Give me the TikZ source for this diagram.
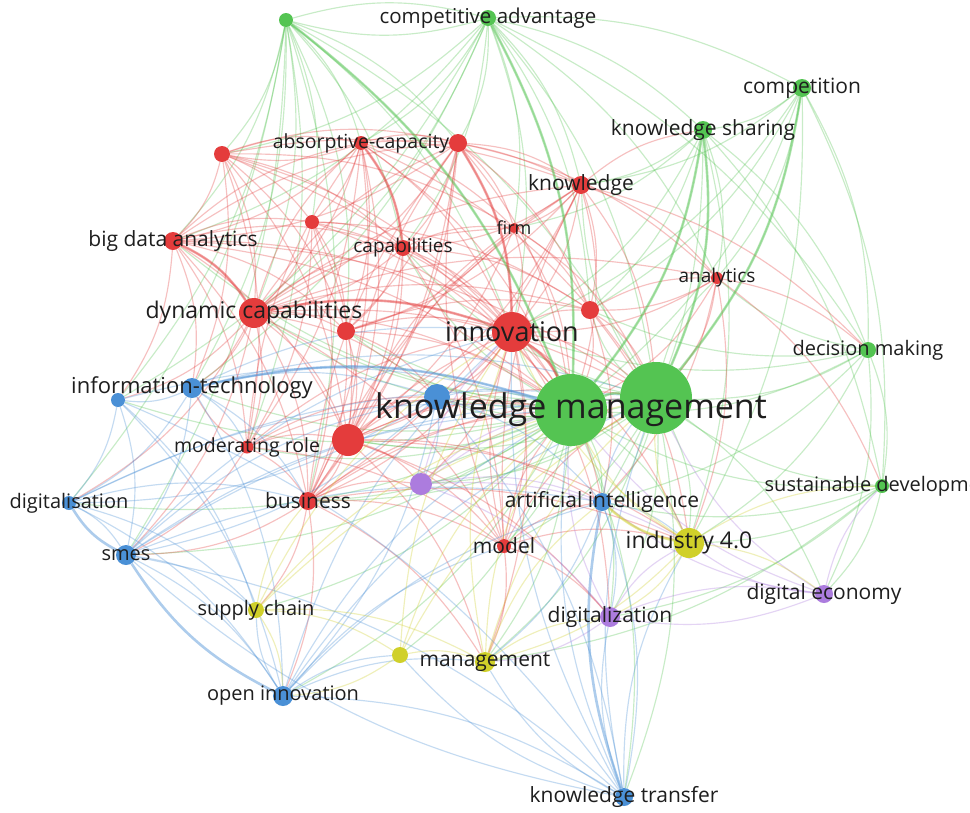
\documentclass[tikz,border=0pt]{standalone}
\usepackage{fontspec}
\setmainfont{Open Sans}
\usetikzlibrary{backgrounds}

\definecolor{vred}{RGB}{228,60,60}
\definecolor{vgreen}{RGB}{84,196,82}
\definecolor{vblue}{RGB}{74,144,214}
\definecolor{vyellow}{RGB}{208,208,42}
\definecolor{vpurple}{RGB}{172,124,222}
\definecolor{vtext}{RGB}{30,30,30}

\tikzset{
	term/.style={circle,inner sep=0pt,minimum size=#1},
	rterm/.style={term=#1,fill=vred},
	gterm/.style={term=#1,fill=vgreen},
	bterm/.style={term=#1,fill=vblue},
	yterm/.style={term=#1,fill=vyellow},
	pterm/.style={term=#1,fill=vpurple},
	tag/.style={font=\fontsize{#1}{#1}\selectfont,text=vtext,inner sep=0pt},
	link/.style={line width=1.15pt,draw opacity=.32,bend left=15},
	heavy/.style={line width=2.6pt,draw opacity=.45,bend left=15},
}

\begin{document}
\begin{tikzpicture}[x=1pt,y=-1pt]
		\useasboundingbox (0,0) rectangle (970,812);
		% Terms
			\node[gterm=14] (ga) at (286,20) {};
			\node[gterm=16] (cadv) at (488,18) {};
			\node[gterm=18] (comp) at (802,88) {};
			\node[gterm=18] (ksh) at (703,130) {};
			\node[gterm=16] (dec) at (868,350) {};
			\node[gterm=14] (sus) at (882,486) {};
			\node[gterm=72] (km) at (571,410) {};
			\node[gterm=72] (km2) at (656,398) {};

			\node[rterm=14] (abs) at (361,143) {};
			\node[rterm=18] (r1) at (458,143) {};
			\node[rterm=16] (r2) at (222,154) {};
			\node[rterm=18] (know) at (581,185) {};
			\node[rterm=14] (r3) at (312,222) {};
			\node[rterm=18] (bda) at (173,241) {};
			\node[rterm=16] (cap) at (403,248) {};
			\node[rterm=10] (firm) at (514,228) {};
			\node[rterm=12] (ana) at (717,278) {};
			\node[rterm=30] (dyn) at (254,313) {};
			\node[rterm=18] (r4) at (346,331) {};
			\node[rterm=40] (inno) at (512,332) {};
			\node[rterm=18] (r5) at (590,310) {};
			\node[rterm=13] (mod) at (247,447) {};
			\node[rterm=32] (r6) at (348,440) {};
			\node[rterm=18] (bus) at (308,501) {};
			\node[rterm=14] (model) at (504,546) {};

			\node[bterm=20] (it) at (192,388) {};
			\node[bterm=14] (b1) at (118,400) {};
			\node[bterm=26] (b2) at (437,397) {};
			\node[bterm=14] (digis) at (69,503) {};
			\node[bterm=20] (smes) at (126,555) {};
			\node[bterm=20] (oi) at (283,696) {};
			\node[bterm=18] (ai) at (602,502) {};
			\node[bterm=18] (kt) at (624,797) {};

			\node[pterm=22] (p1) at (421,484) {};
			\node[pterm=20] (digiz) at (610,617) {};
			\node[pterm=18] (decon) at (824,594) {};

			\node[yterm=30] (ind) at (689,543) {};
			\node[yterm=16] (sc) at (256,610) {};
			\node[yterm=16] (y1) at (400,655) {};
			\node[yterm=20] (mgmt) at (485,662) {};

		% Links
		\begin{pgfonlayer}{background}
			\fill[white] (0,0) rectangle (970,812);
			\foreach \s/\tl in {ga/{cadv,abs,r1,cap,inno,km,km2,r4,dyn,bda,it,b1,r3,r2,mod,bus,digis,smes},
				cadv/{comp,ksh,know,r1,abs,inno,km,km2,dyn,bda,r2,cap,firm,ana,dec,ga,r5,it,b1},
				comp/{ksh,dec,sus,km,km2,inno,ana,know,ind,r5},
				ksh/{know,km,km2,dec,inno,ana,ind,ai,r5,firm,sus},
				dec/{sus,km,km2,inno,ai,ind,r5,ana,decon},
				sus/{km,km2,ind,decon,digiz,ai,mgmt},
				km/{km2,inno,b2,r6,p1,ai,ind,model,mgmt,bus,dyn,cap,r4,kt,digiz,it,mod,sc,oi,y1,smes,digis,b1,bda},
				km2/{inno,r5,ana,ai,ind,digiz,decon,model,mgmt,r6,b2,kt,p1,bus,dyn,r4,cap,know}}
				\foreach \t in \tl \draw[link,vgreen] (\s) to (\t);
			\foreach \s/\tl in {abs/{r1,r2,cap,inno,km,km2,bda,know,r3,r4,dyn,firm,mod,r6,bus},
				r1/{know,cap,firm,inno,km,dyn,r4,r6,ana,r5,bda,bus},
				r2/{bda,dyn,abs,cap,inno,km,r6,mod,r3,r4,it,know,r1,firm},
				know/{firm,inno,ana,r5,km,km2,cap,r4,r6,dec,ksh,bus},
				r3/{dyn,inno,r6,bus,km,cap,r4,mod,r5},
				bda/{dyn,r4,inno,km,it,mod,r6,bus,cap,km2,abs,r1,r3,b1},
				cap/{dyn,inno,r4,km,r6,firm,r5,bus,model},
				firm/{inno,r5,km,km2,r4,r6},
				ana/{r5,inno,km2,km,ai,ind,dec,sus},
				dyn/{r4,inno,km,km2,it,mod,r6,bus,model,b2,smes,r5,cap,abs,r1,know,firm,ana,digis,b1},
				r4/{inno,km,r6,b2,bus,r5},
				inno/{r5,km,km2,r6,model,bus,ai,ind,mgmt,digiz,p1,b2},
				r5/{km2,km,ana,ind,ai},
				mod/{r6,bus,km,smes,it,b2,model,inno,abs},
				r6/{km,km2,bus,model,p1,mgmt,b2,ai,r1,know,firm,ind,digiz},
				bus/{model,km,oi,sc,smes,p1,km2,inno,r1,know,ind,mgmt},
				model/{km,mgmt,ind,ai,km2,inno,r1,know,digiz}}
				\foreach \t in \tl \draw[link,vred] (\s) to (\t);
			\foreach \s/\tl in {it/{b1,b2,digis,smes,mod,km,oi,bus,km2,inno},
				b1/{digis,smes,oi,km,kt,sc},
				b2/{km,smes,ai,kt,oi,p1,digis},
				digis/{smes,oi,km,bus,km2,sc},
				smes/{oi,km,sc,b2,ai,kt,km2,inno},
				oi/{sc,y1,mgmt,km,kt,ai,model,km2,inno},
				ai/{km2,kt,ind,digiz,mgmt},
				kt/{km,km2,ind,digiz,mgmt,y1,inno,smes}}
				\foreach \t in \tl \draw[link,vblue] (\s) to (\t);
			\foreach \s/\tl in {p1/{km,inno,digiz,ai,ind,km2},
				digiz/{km,ind,decon,mgmt},
				decon/{km,km2,ind,sus,ai,digiz}}
				\foreach \t in \tl \draw[link,vpurple] (\s) to (\t);
			\foreach \s/\tl in {ind/{km,km2,ai,mgmt,inno,decon,digiz,sus},
				sc/{mgmt,y1,km,oi,inno,bus,km2},
				y1/{mgmt,km,inno,oi,km2},
				mgmt/{km,km2,ai,inno,digiz}}
				\foreach \t in \tl \draw[link,vyellow] (\s) to (\t);
			% strong links
			\foreach \s/\t in {comp/km2,ksh/km2,ksh/km,cadv/km,km/km2,ga/km}
				\draw[heavy,vgreen] (\s) to (\t);
			\foreach \s/\t in {dyn/inno,bda/dyn,inno/km,abs/cap,r1/inno}
				\draw[heavy,vred] (\s) to (\t);
			\foreach \s/\t in {kt/ai,smes/digis,oi/smes,it/km}
				\draw[heavy,vblue] (\s) to (\t);
			\draw[heavy,vyellow] (ind) to (ai);
		\end{pgfonlayer}

		% Labels
		\foreach \n/\z/\txt in {cadv/20.5/competitive advantage, comp/21/competition,
			ksh/21/knowledge sharing, dec/20/decision making, sus/20/sustainable development,
			km/34/knowledge management, abs/19.5/absorptive-capacity, know/21/knowledge,
			bda/21/big data analytics, cap/19/capabilities, firm/18/firm, ana/19/analytics,
			dyn/23/dynamic capabilities, inno/27/innovation, mod/19.5/moderating role,
			bus/21/business, model/21/model, it/22/information-technology,
			digis/20/digitalisation, smes/20/smes, oi/20/open innovation,
			ai/21/artificial intelligence, kt/21/knowledge transfer, digiz/21/digitalization,
			decon/21/digital economy, ind/23/industry 4.0, sc/20/supply chain, mgmt/21/management}
			\node[tag=\z] (\n-t) at (\n) {\txt};

\end{tikzpicture}
\end{document}
